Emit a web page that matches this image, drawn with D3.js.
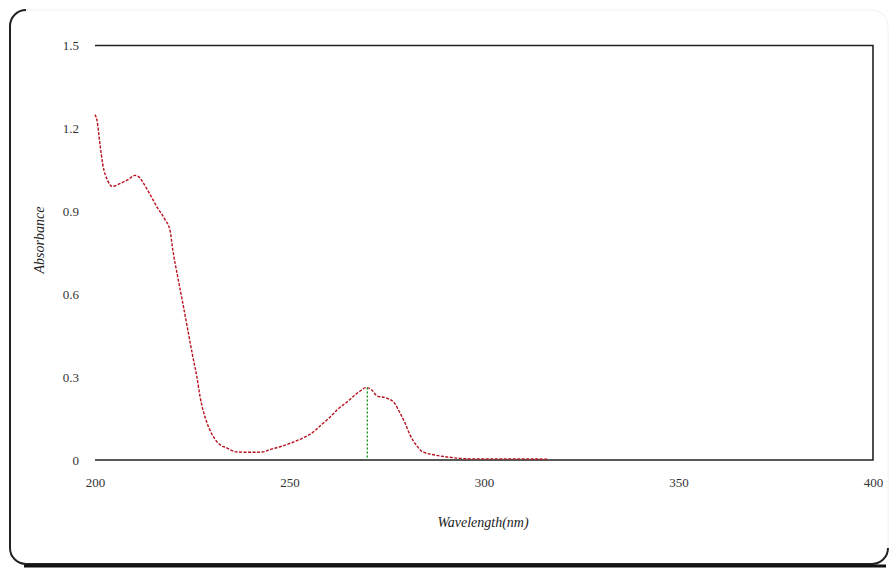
<!DOCTYPE html>
<html><head><meta charset="utf-8">
<script src="https://cdn.jsdelivr.net/npm/d3@7"></script>
<style>body{margin:0;background:#fff}</style>
</head><body>
<svg id="c" width="894" height="569"></svg>
<script>
const wavelength = [200,200.5,201.3,202,203.3,204.4,206.4,208.5,210.3,211.6,212.3,214,216,218,219.3,220,221.3,222.4,224,225.2,226.2,227,228.8,230,231.4,234,236.5,240,243,245,247.6,251,253.5,256,258,260.4,262.5,264.8,266.8,268,269.7,271,272.5,275,277,278.4,279.7,281,282.8,284.3,287.4,290.5,293.8,297,304,310,316.5];
const absorbance = [1.25,1.23,1.14,1.07,1.01,0.99,1.0,1.015,1.03,1.02,1.005,0.965,0.914,0.87,0.83,0.76,0.66,0.58,0.46,0.37,0.3,0.23,0.134,0.095,0.065,0.043,0.029,0.028,0.029,0.038,0.048,0.065,0.08,0.1,0.125,0.155,0.185,0.21,0.235,0.248,0.262,0.255,0.232,0.224,0.206,0.17,0.134,0.09,0.05,0.029,0.018,0.011,0.006,0.004,0.004,0.004,0.003];
const peakWavelength = 270;
const peakAbsorbance = 0.262;
const yTicks = [0,0.3,0.6,0.9,1.2,1.5];
const yTickLabels = ["0","0.3","0.6","0.9","1.2","1.5"];
const xTicks = [200,250,300,350,400];

const svg = d3.select("#c");
// outer rounded frame
svg.append("rect").attr("x",10).attr("y",10).attr("width",878).attr("height",554)
  .attr("rx",16).attr("fill","none").attr("stroke","#f0f0f0").attr("stroke-width",1);
svg.append("path").attr("d","M 26 10 A 16 16 0 0 0 10 26 L 10 548 A 16 16 0 0 0 26 564 L 872 564 A 16 16 0 0 0 888 548")
  .attr("fill","none").attr("stroke","#222").attr("stroke-width",2);
svg.append("line").attr("x1",24).attr("x2",886).attr("y1",566).attr("y2",566).attr("stroke","#111").attr("stroke-width",3);

const x = d3.scaleLinear().domain([200,400]).range([95,873]);
const y = d3.scaleLinear().domain([0,1.5]).range([460,45.5]);

const g = svg.append("g");
g.append("path").attr("d",`M ${x(200)} ${y(1.5)} L ${x(400)} ${y(1.5)} L ${x(400)} ${y(0)} L ${x(200)} ${y(0)}`)
  .attr("fill","none").attr("stroke","#222").attr("stroke-width",1.6);

const yAxis = d3.axisLeft(y).tickValues(yTicks).tickFormat((d,i)=>yTickLabels[i]).tickSize(0).tickPadding(16);
const ya = svg.append("g").attr("transform",`translate(${x(200)},0)`).call(yAxis);
ya.select(".domain").remove();
ya.selectAll("text").attr("font-family","Liberation Serif, serif").attr("font-size",13).attr("fill","#333");

const xAxis = d3.axisBottom(x).tickValues(xTicks).tickFormat(d3.format("d")).tickSize(0).tickPadding(18);
const xa = svg.append("g").attr("transform",`translate(0,${y(0)})`).call(xAxis);
xa.select(".domain").remove();
xa.selectAll("text").attr("font-family","Liberation Serif, serif").attr("font-size",13).attr("fill","#333");

const data = wavelength.map((w,i)=>[w,absorbance[i]]);
svg.append("path").datum(data)
  .attr("d", d3.line().x(d=>x(d[0])).y(d=>y(d[1])).curve(d3.curveMonotoneX))
  .attr("fill","none").attr("stroke","#b8101e").attr("stroke-width",1.4).attr("stroke-dasharray","3,1.5");

svg.append("line").attr("x1",x(peakWavelength)).attr("x2",x(peakWavelength))
  .attr("y1",y(peakAbsorbance)).attr("y2",y(0))
  .attr("stroke","#1a9a1a").attr("stroke-width",1.4).attr("stroke-dasharray","2,2");

svg.append("text").attr("x",483).attr("y",527).attr("text-anchor","middle")
  .attr("font-family","Liberation Serif, serif").attr("font-style","italic").attr("font-size",14).attr("fill","#222")
  .text("Wavelength(nm)");
svg.append("text").attr("transform","translate(44,240) rotate(-90)").attr("text-anchor","middle")
  .attr("font-family","Liberation Serif, serif").attr("font-style","italic").attr("font-size",14).attr("fill","#222")
  .text("Absorbance");
</script>
</body></html>
